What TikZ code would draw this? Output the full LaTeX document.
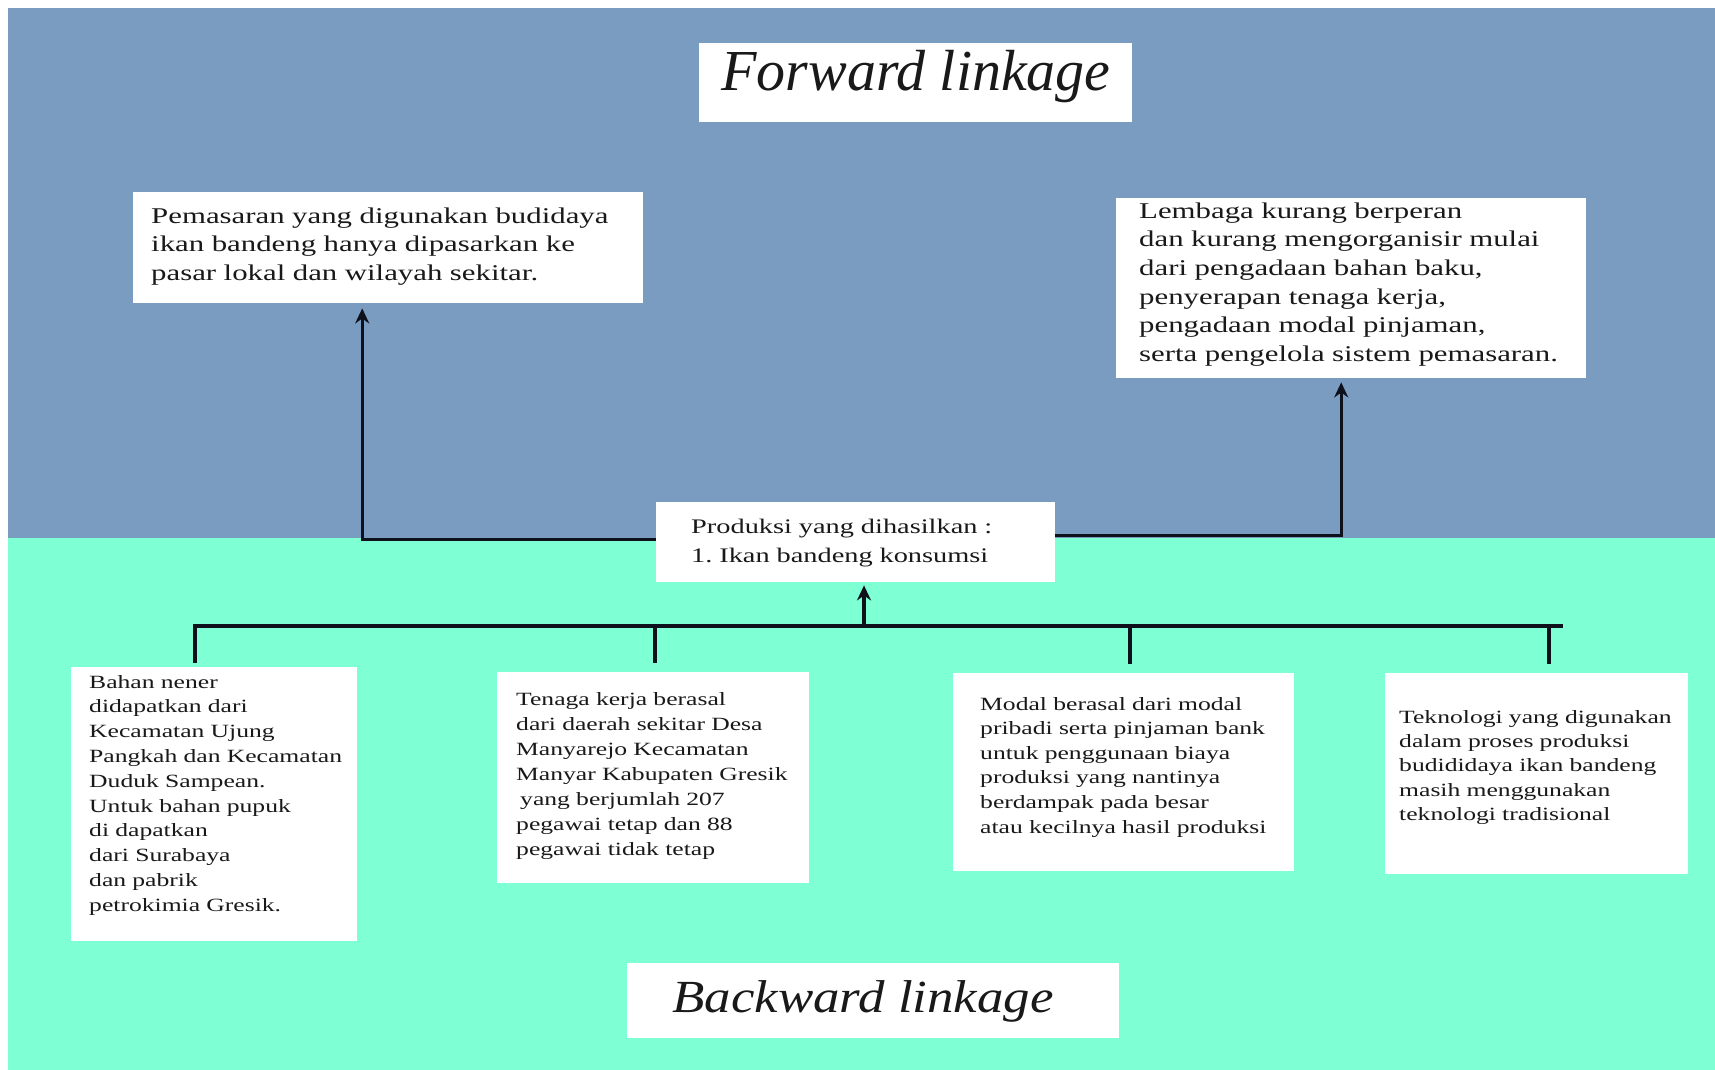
\documentclass[tikz,border=0pt]{standalone}
\usepackage{fontspec}
\setmainfont{Liberation Serif}
\newfontfamily\bodyf[FakeStretch=1.37,WordSpace=1.6]{Liberation Serif}
\newfontfamily\headA{Liberation Serif}
\newfontfamily\headB[FakeStretch=1.15]{Liberation Serif}
\usetikzlibrary{arrows.meta}
\definecolor{topblue}{RGB}{123,156,193}
\definecolor{botgreen}{RGB}{127,255,212}
\definecolor{lnc}{RGB}{14,16,28}
\frenchspacing
\begin{document}
\begin{tikzpicture}[x=1pt,y=-1pt,
  box/.style={fill=white, inner sep=0pt, anchor=north west},
  txt/.style={anchor=base west, inner sep=0pt, text width=700pt, align=left, text=black!90},
  ln/.style={draw=lnc, line width=3.3pt},
  conn/.style={draw=lnc, line width=3.3pt, -{Stealth[length=15pt,width=14pt]}}]
\useasboundingbox (0,0) rectangle (1715,1070);
\fill[white] (0,0) rectangle (1715,1070);
\fill[topblue] (8,8) rectangle (1715,538);
\fill[botgreen] (8,538) rectangle (1715,1070);

% boxes
\node[box, minimum width=433pt, minimum height=79pt] (FW) at (699,43) {};
\node[box, minimum width=510pt, minimum height=111pt] (TL) at (133,192) {};
\node[box, minimum width=470pt, minimum height=180pt] (TR) at (1116,198) {};
\node[box, minimum width=399pt, minimum height=80pt] (PR) at (656,502) {};
\node[box, minimum width=286pt, minimum height=274pt] (B1) at (71,667) {};
\node[box, minimum width=312pt, minimum height=211pt] (B2) at (497,672) {};
\node[box, minimum width=341pt, minimum height=198pt] (B3) at (953,673) {};
\node[box, minimum width=303pt, minimum height=201pt] (B4) at (1385,673) {};
\node[box, minimum width=492pt, minimum height=75pt] (BW) at (627,963) {};

% headings
\node[anchor=base, inner sep=0pt, text=black!90, font=\headA\itshape\fontsize{58}{60}\selectfont] (FWt) at (916,91) {Forward linkage};
\node[anchor=base, inner sep=0pt, text=black!90, font=\headB\itshape\fontsize{46}{50}\selectfont] (BWt) at (863,1012) {Backward linkage};

% texts
\node[txt, font=\bodyf\fontsize{22.5}{28.7}\selectfont] (TLt) at (151,223) {Pemasaran yang digunakan budidaya\\ikan bandeng hanya dipasarkan ke\\pasar lokal dan wilayah sekitar.};
\node[txt, font=\bodyf\fontsize{22.5}{28.7}\selectfont] (TRt) at (1139,218) {Lembaga kurang berperan\\dan kurang mengorganisir mulai\\dari pengadaan bahan baku,\\penyerapan tenaga kerja,\\pengadaan modal pinjaman,\\serta pengelola sistem pemasaran.};
\node[txt, font=\bodyf\fontsize{20.7}{29}\selectfont] (PRt) at (691,533) {Produksi yang dihasilkan :\\1. Ikan bandeng konsumsi};
\node[txt, font=\bodyf\fontsize{18.7}{24.8}\selectfont] (B1t) at (89,688) {Bahan nener\\didapatkan dari\\Kecamatan Ujung\\Pangkah dan Kecamatan\\Duduk Sampean.\\Untuk bahan pupuk\\di dapatkan\\dari Surabaya\\dan pabrik\\petrokimia Gresik.};
\node[txt, font=\bodyf\fontsize{18.7}{25}\selectfont] (B2t) at (516,705) {Tenaga kerja berasal\\dari daerah sekitar Desa\\Manyarejo Kecamatan\\Manyar Kabupaten Gresik\\\hspace*{4pt}yang berjumlah 207\\pegawai tetap dan 88\\pegawai tidak tetap};
\node[txt, font=\bodyf\fontsize{18.7}{24.6}\selectfont] (B3t) at (980,710) {Modal berasal dari modal\\pribadi serta pinjaman bank\\untuk penggunaan biaya\\produksi yang nantinya\\berdampak pada besar\\atau kecilnya hasil produksi};
\node[txt, font=\bodyf\fontsize{18.7}{24.4}\selectfont] (B4t) at (1399,723) {Teknologi yang digunakan\\dalam proses produksi\\budididaya ikan bandeng\\masih menggunakan\\teknologi tradisional};

% forward connectors
\draw[conn, shorten >=5pt] ([yshift=3pt]PR.west) -| ([xshift=-26pt]TL.south);
\draw[conn, shorten >=4pt] ([yshift=7pt]PR.east) -| ([xshift=-10pt]TR.south);

% backward bus
\coordinate (bL) at (195,626);
\coordinate (bR) at (1561,626);
\coordinate (d2) at (655,626);
\coordinate (d3) at (1130,626);
\coordinate (d4) at (1549,626);
\coordinate (bM) at (864,626);
\draw[ln, line cap=rect] (bL) -- (bR);
\draw[ln, shorten >=4pt] (bL) -- (bL |- B1.north);
\draw[ln, shorten >=9pt] (d2) -- (d2 |- B2.north);
\draw[ln, shorten >=9pt] (d3) -- (d3 |- B3.north);
\draw[ln, shorten >=9pt] (d4) -- (d4 |- B4.north);
\draw[conn, shorten >=3pt] (bM) -- (bM |- PR.south);
\end{tikzpicture}
\end{document}
